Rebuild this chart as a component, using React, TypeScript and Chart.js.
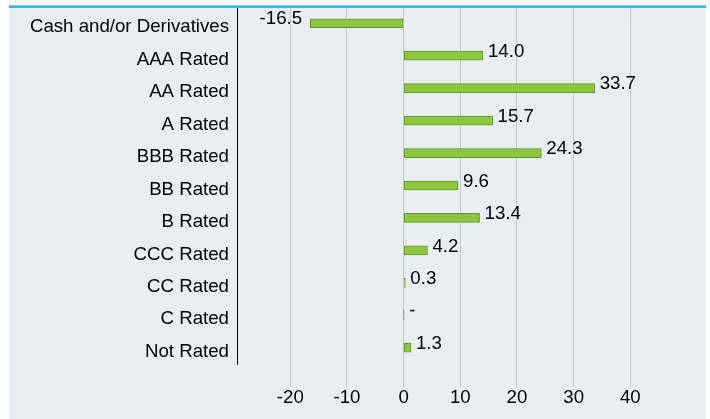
import React, { useEffect, useRef } from 'react';
import { Chart, registerables } from 'chart.js';

Chart.register(...registerables);

const categories = [
  'Cash and/or Derivatives',
  'AAA Rated',
  'AA Rated',
  'A Rated',
  'BBB Rated',
  'BB Rated',
  'B Rated',
  'CCC Rated',
  'CC Rated',
  'C Rated',
  'Not Rated',
];
const values = [-16.5, 14.0, 33.7, 15.7, 24.3, 9.6, 13.4, 4.2, 0.3, 0, 1.3];
const xTicks = [-20, -10, 0, 10, 20, 30, 40];
const xMin = -29.4;
const xMax = 53.35;

const FONT = "'Liberation Sans', Arial, sans-serif";
const FS = 18.67;

const bgPlugin = {
  id: 'bgPlugin',
  beforeDraw(chart: any) {
    const ctx = chart.ctx;
    ctx.save();
    ctx.fillStyle = '#e9eef1';
    ctx.fillRect(9, 8, 697, 411);
    ctx.restore();
  },
  afterDraw(chart: any) {
    const ctx = chart.ctx;
    ctx.save();
    ctx.fillStyle = '#3db4e5';
    ctx.fillRect(9, 5.3, 697, 2.7);
    ctx.restore();
  },
};

const labelPlugin = {
  id: 'labelPlugin',
  afterDatasetsDraw(chart: any) {
    const ctx = chart.ctx;
    const meta = chart.getDatasetMeta(0);
    ctx.save();
    ctx.font = `${FS}px ${FONT}`;
    ctx.fillStyle = '#000';
    ctx.textBaseline = 'middle';
    meta.data.forEach((el: any, i: number) => {
      const v = values[i];
      const text = v === 0 ? '-' : v.toFixed(1);
      const y = el.y - 4;
      if (v < 0) {
        ctx.textAlign = 'right';
        ctx.fillText(text, Math.min(el.x, el.base) - 8, y);
      } else {
        ctx.textAlign = 'left';
        ctx.fillText(text, Math.max(el.x, el.base) + 5, y);
      }
    });
    ctx.restore();
  },
};

export default function App() {
  const ref = useRef<HTMLCanvasElement | null>(null);

  useEffect(() => {
    if (!ref.current) return;
    const chart = new Chart(ref.current, {
      type: 'bar',
      data: {
        labels: categories,
        datasets: [
          {
            data: values,
            backgroundColor: '#8dc63f',
            borderColor: '#5f9631',
            borderWidth: 1,
            borderSkipped: false,
            barThickness: 9,
            minBarLength: 1,
          },
        ],
      },
      options: {
        indexAxis: 'y',
        responsive: false,
        animation: false,
        layout: { padding: { left: 0, right: 4, top: 7, bottom: 0 } },
        plugins: {
          legend: { display: false },
          tooltip: { enabled: false },
        },
        scales: {
          y: {
            type: 'category',
            position: 'left',
            grid: { display: false, drawTicks: false },
            border: { display: true, color: '#000', width: 1 },
            ticks: {
              font: { family: FONT, size: FS },
              color: '#000',
              padding: 8,
              labelOffset: 4,
            },
            afterFit(scale: any) {
              scale.width = 237;
              scale.paddingTop = 0;
              scale.paddingBottom = 0;
            },
          },
          x: {
            type: 'linear',
            position: 'bottom',
            min: xMin,
            max: xMax,
            grid: {
              display: true,
              color: '#c9c9c9',
              lineWidth: 1,
              drawTicks: true,
              tickLength: 23,
              tickColor: '#c9c9c9',
            },
            border: { display: false },
            ticks: {
              font: { family: FONT, size: FS },
              color: '#000',
              padding: 0,
              maxRotation: 0,
              autoSkip: false,
            },
            afterBuildTicks(scale: any) {
              scale.ticks = xTicks.map((v) => ({ value: v }));
            },
            afterFit(scale: any) {
              scale.height = 55;
              scale.paddingLeft = 0;
              scale.paddingRight = 0;
            },
          },
        },
      },
      plugins: [bgPlugin, labelPlugin],
    });
    return () => chart.destroy();
  }, []);

  return (
    <div style={{ position: 'absolute', left: 0, top: 0, width: 710, height: 419 }}>
      <canvas ref={ref} width={710} height={419} style={{ display: 'block' }} />
    </div>
  );
}
